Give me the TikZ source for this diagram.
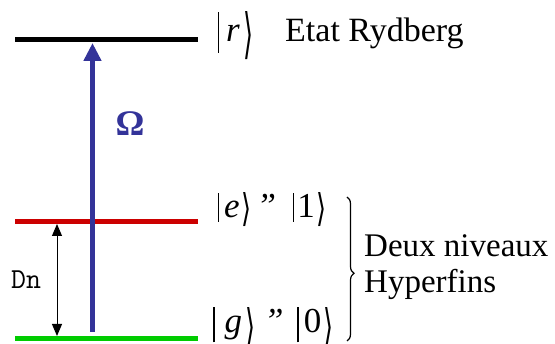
\documentclass[tikz,border=0pt]{standalone}
\usepackage{fontspec}
\setmainfont{Liberation Serif}
\newfontfamily\djv{DejaVu Sans}
\usetikzlibrary{arrows.meta,decorations.pathreplacing}
\definecolor{omblue}{RGB}{51,51,153}
\definecolor{lvred}{RGB}{204,0,0}
\definecolor{lvgreen}{RGB}{0,204,0}
% ket bar and angle: #1 total height, #2 depth
\newcommand\kbar[2]{\rule[-#2]{1.3pt}{#1}}
\newcommand\kang[2]{\raisebox{-#2}{\resizebox{10pt}{#1}{\djv ⟩}}}
\begin{document}
\begin{tikzpicture}[x=1pt,y=-1pt,
  level/.style={line width=5pt},
  lbl/.style={inner sep=0pt,font=\fontsize{33}{38}\selectfont},
  ket/.style={inner sep=0pt,anchor=base west,font=\fontsize{35}{40}\selectfont}]
\useasboundingbox (0,0) rectangle (555,344);
% levels
\coordinate (rA) at (15,39.5);  \coordinate (rB) at (198,39.5);
\coordinate (eA) at (15,221.5); \coordinate (eB) at (198,221.5);
\coordinate (gA) at (15,338.5); \coordinate (gB) at (198,338.5);
\draw[level,black] (rA) -- (rB);
\draw[level,lvred] (eA) -- (eB);
\draw[level,lvgreen] (gA) -- (gB);
% Omega arrow
\coordinate (oS) at (92.5,332);
\coordinate (oE) at (92.5,43);
\draw[omblue,line width=5.5pt,-{Triangle[width=17pt,length=18pt]}] (oS) -- (oE);
\node[inner sep=0pt,text=omblue,font=\fontsize{36}{40}\selectfont] (om) at (130,124) {\textbf{Ω}};
% Dn arrow
\coordinate (dS) at (57,224);
\coordinate (dE) at (57,336);
\draw[line width=1pt,{Triangle[width=10pt,length=12pt]}-{Triangle[width=10pt,length=12pt]}] (dS) -- (dE);
\node[inner sep=0pt,font=\ttfamily\fontsize{29}{32}\selectfont] (dn) at (26,280) {Dn};
% kets
\node[ket] (kr) at (217.5,42) {\kbar{41pt}{11pt}\hspace{7pt}\textit{r}\hspace{4pt}\kang{41pt}{11pt}};
\node[inner sep=0pt,anchor=base west,font=\fontsize{34}{38}\selectfont] (et) at (285,42) {Etat Rydberg};
\node[ket] (ke) at (217.5,218) {\kbar{29pt}{4pt}\hspace{5pt}\textit{e}\hspace{2pt}\kang{29pt}{4pt}\hspace{5pt}\textit{"}\hspace{17pt}\kbar{29pt}{4pt}\hspace{3pt}1\hspace{2pt}\kang{29pt}{4pt}};
\node[ket] (kg) at (213,333) {\kbar{35pt}{9.5pt}\hspace{10pt}\textit{g}\hspace{3pt}\kang{35pt}{9.5pt}\hspace{9pt}\textit{"}\hspace{14pt}\kbar{35pt}{9.5pt}\hspace{5pt}0\hspace{2pt}\kang{35pt}{9.5pt}};
% brace
\coordinate (bT) at (347,197);
\coordinate (bB) at (347,341);
\draw[line width=1.2pt,decorate,decoration={brace,amplitude=7pt,aspect=0.53}] (bT) -- (bB);
\node[lbl,anchor=base west] (d1) at (364,257) {Deux niveaux};
\node[lbl,anchor=base west] (d2) at (364,293) {Hyperfins};
\end{tikzpicture}
\end{document}
